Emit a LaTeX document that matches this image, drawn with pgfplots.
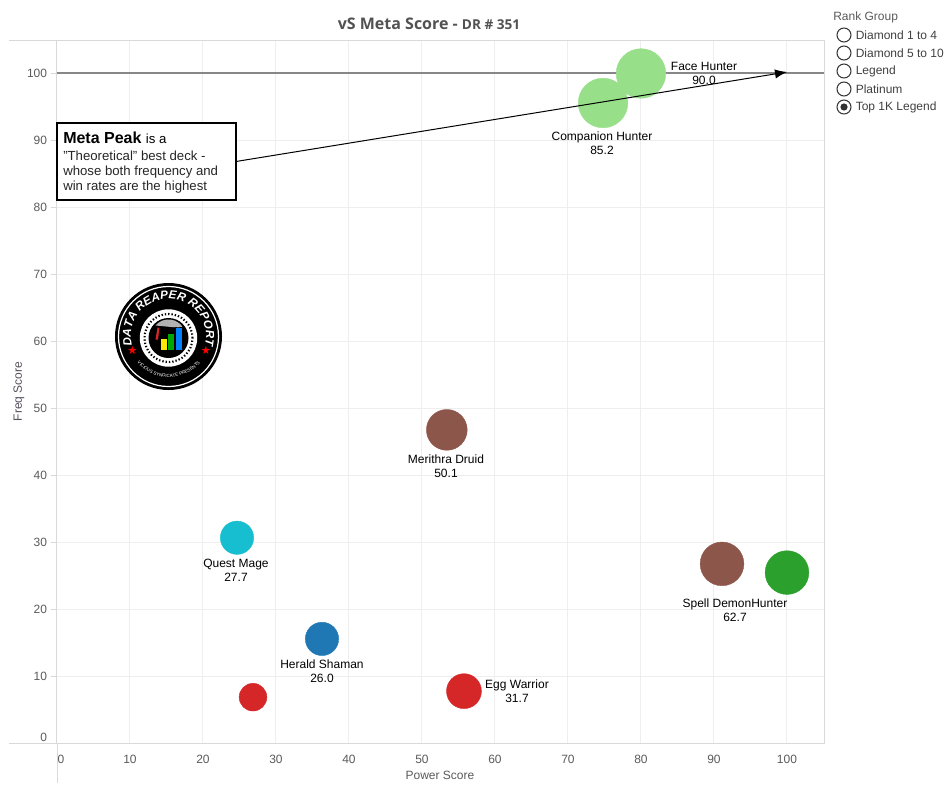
\documentclass[border=0pt]{standalone}
\usepackage{fontspec}
\setmainfont{Liberation Sans}
\newfontfamily\titlefont{Open Sans}
\newfontfamily\symfont{DejaVu Sans}
\usepackage{pgfplots}
\pgfplotsset{compat=1.18}
\usetikzlibrary{decorations.text,arrows.meta}
\definecolor{gridc}{HTML}{EEEEEE}
\definecolor{framec}{HTML}{D9D9D9}
\definecolor{tickc}{HTML}{5A5A5A}
\definecolor{flabc}{HTML}{574F5C}
\definecolor{lgreen}{HTML}{98DF8A}
\definecolor{brownc}{HTML}{8C564B}
\definecolor{tealc}{HTML}{17BECF}
\definecolor{bluec}{HTML}{1F77B4}
\definecolor{redc}{HTML}{D62728}
\definecolor{greenc}{HTML}{2CA02C}
\newcommand{\lab}[1]{\fontsize{9}{10.5}\selectfont #1}
\tikzset{dl/.style={align=center,font=\fontsize{9}{10.5}\selectfont}}
\pgfplotsset{bub/.style={only marks,mark=*,mark options={fill=#1,draw=#1,line width=0.3pt}}}
\begin{document}
\begin{tikzpicture}
\begin{scope}[x=0.75pt,y=-0.75pt]
\path[use as bounding box] (0,0) rectangle (951,789);
\end{scope}
\begin{axis}[
  at={(42.75pt,-557.55pt)},anchor=south west,
  scale only axis,width=575.25pt,height=527.55pt,
  xmin=0,xmax=105.07,ymin=0,ymax=105,
  xtick={0,10,...,100},ytick={0,10,...,100},
  xticklabels={\kern6pt 0,10,20,30,40,50,60,70,80,90,100},
  yticklabels={\raisebox{9pt}{0},10,20,30,40,50,60,70,80,90,100},
  ytick pos=left,xtick pos=bottom,
  grid=major,
  major grid style={draw=gridc,line width=0.75pt},
  axis line style={draw=framec,line width=0.75pt},
  tick align=outside,
  major tick length=4.5pt,
  ytick style={draw=framec,line width=0.75pt},
  xtick style={draw=none},
  tick label style={font=\fontsize{9}{10}\selectfont,text=tickc},
  yticklabel style={xshift=0.6pt},
  xticklabel style={yshift=-0.5pt},
  clip mode=individual,
]
\addplot[draw=black!47,line width=1.5pt,forget plot] coordinates {(0,100)(105.07,100)};
\addplot[bub=lgreen,mark size=18.6pt] coordinates {(80,100)};
\addplot[bub=lgreen,mark size=18.6pt] coordinates {(74.8,95.6)};
\addplot[bub=brownc,mark size=15.3pt] coordinates {(53.4,46.8)};
\addplot[bub=tealc,mark size=12.5pt] coordinates {(24.66,30.7)};
\addplot[bub=brownc,mark size=16.4pt] coordinates {(91.1,26.8)};
\addplot[bub=greenc,mark size=16.4pt] coordinates {(100,25.5)};
\addplot[bub=bluec,mark size=12.5pt] coordinates {(36.3,15.6)};
\addplot[bub=redc,mark size=10.4pt] coordinates {(26.85,6.9)};
\addplot[bub=redc,mark size=13.1pt] coordinates {(55.75,7.8)};
\end{axis}
\begin{scope}[x=0.75pt,y=-0.75pt]
\draw[framec,line width=0.75pt] (9,40)--(57,40) (9,743.4)--(57,743.4) (57,743.4)--(57,783);
\node[text=black!68] at (429,24) {\titlefont\bfseries\fontsize{12}{14}\selectfont vS Meta Score - \fontsize{10.2}{14}\selectfont DR \# 351};
\node[text=tickc] at (440,775) {\lab{Power Score}};
\node[rotate=90,text=flabc] at (19,391.5) {\lab{Freq Score}};
\node[dl] at (704,73) {Face Hunter\\90.0};
\node[dl] at (602,143) {Companion Hunter\\85.2};
\node[dl] at (446,466) {Merithra Druid\\50.1};
\node[dl] at (236,570) {Quest Mage\\27.7};
\node[dl] at (735,610) {Spell DemonHunter\\62.7};
\node[dl] at (322,671) {Herald Shaman\\26.0};
\node[dl] at (517,691) {Egg Warrior\\31.7};
\draw[black,line width=0.75pt,-{Latex[length=9pt,width=7pt]}] (236,161.5)--(787,72);
\draw[black,line width=1.5pt,fill=white] (57,122.5)rectangle(236,200);
\node[anchor=base west,inner sep=0pt] at (63,143) {\fontsize{12}{14}\selectfont\bfseries Meta Peak\ \fontsize{9.9}{14}\selectfont\mdseries is a};
\node[anchor=base west,inner sep=0pt,text=black!85] at (63,160) {\fontsize{9.9}{14}\selectfont "Theoretical" best deck -};
\node[anchor=base west,inner sep=0pt,text=black!85] at (63,175) {\fontsize{9.9}{14}\selectfont whose both frequency and};
\node[anchor=base west,inner sep=0pt,text=black!85] at (63,190) {\fontsize{9.9}{14}\selectfont win rates are the highest};
\node[anchor=west,inner sep=0pt,text=tickc] at (833,17) {\lab{Rank Group}};
\foreach \yy/\tt in {35/Diamond 1 to 4,53/Diamond 5 to 10,71/Legend,89/Platinum,107/Top 1K Legend}{
  \draw[black!80,line width=0.75pt,fill=white] (844,\yy) circle[radius=7];
  \node[anchor=west,inner sep=0pt,text=black!75] at (855.5,\yy+0.5) {\lab{\tt}};
}
\fill[black!80] (844,107) circle[radius=3.6];
\begin{scope}[shift={(168.5,336.5)},x=0.75pt,y=0.75pt]
\fill[black] (0,0) circle[radius=53.5];
\draw[white,line width=0.9pt] (0,0) circle[radius=50];
\fill[white] (0,-1.5) circle[radius=28.7];
\draw[black,line width=1.6pt,dash pattern=on 1pt off 1.5pt] (0,-1.5) circle[radius=24];
\fill[black] (0,-1.5) circle[radius=20];
\fill[gray!60] (-13,11) arc[start angle=140,end angle=35,radius=17] -- (8,9) -- cycle;
\fill[black] (-7,4) -- (8,9.5) -- (15,-2) -- (-7,-3) -- cycle;
\fill[redc] (-13,-3) -- (-11,9) -- (-9,9) -- (-10.5,-3) -- cycle;
\fill[yellow!90!orange] (-8,-13.5) rectangle (-2,-2.5);
\fill[green!65!black] (-0.2,-13.5) rectangle (5.8,2.5);
\fill[blue!50!cyan] (7.5,-13.5) rectangle (13.5,8.5);
\path[decorate,decoration={text along path,text color=white,text align=center,text={|\fontsize{8.8}{10}\selectfont\bfseries\itshape|DATA REAPER REPORT}}]
  (-36.5,-9) arc[start angle=194,end angle=-14,radius=37.6];
\path[decorate,decoration={text along path,text color=white,text align=center,text={|\fontsize{3.4}{4}\selectfont|VICIOUS SYNDICATE PRESENTS}}]
  (-35,-21) arc[start angle=211,end angle=329,radius=41];
\node[text=red,inner sep=0pt] at (-36,-13.5) {\symfont\fontsize{8.5}{9}\selectfont ★};
\node[text=red,inner sep=0pt] at (37.5,-13.5) {\symfont\fontsize{8.5}{9}\selectfont ★};
\end{scope}
\end{scope}
\end{tikzpicture}
\end{document}
